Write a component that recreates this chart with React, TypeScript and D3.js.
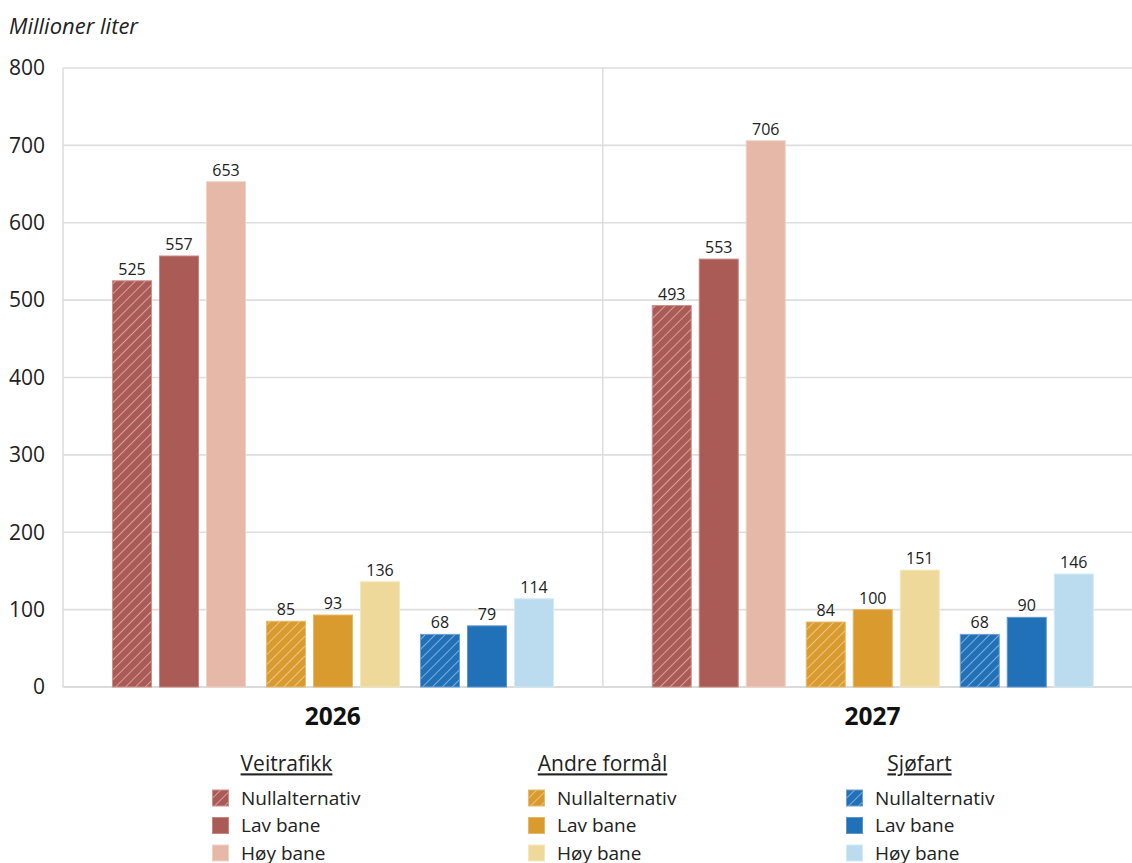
import React from "react";
import * as d3 from "d3";

const years = ["2026", "2027"];
const categories = ["Veitrafikk", "Andre formål", "Sjøfart"];
const scenarios = ["Nullalternativ", "Lav bane", "Høy bane"];
const values2026 = [[525, 557, 653], [85, 93, 136], [68, 79, 114]];
const values2027 = [[493, 553, 706], [84, 100, 151], [68, 90, 146]];
const yTicks = [0, 100, 200, 300, 400, 500, 600, 700, 800];
const colors = [
  ["#ab5b56", "#ab5b56", "#e6b8a7"],
  ["#d99a2e", "#d99a2e", "#eed99b"],
  ["#2171b8", "#2171b8", "#badcee"],
];
const strokes = [
  ["#cf908b", "#c78480", "#f0d2c6"],
  ["#e8bb6e", "#e6b766", "#f5e7bc"],
  ["#6ea0d3", "#5e95cd", "#d4eaf6"],
];

const W = 1132;
const H = 863;
const left = 63;
const right = 1142.5;
const top = 68;
const bottom = 687;
const font = "'Open Sans', 'Noto Sans', sans-serif";

export default function App() {
  const y = d3.scaleLinear().domain([0, 800]).range([bottom, top]);
  const xYear = d3.scaleBand<string>().domain(years).range([left, right]).padding(0);
  const xCat = d3.scaleBand<string>().domain(categories).range([49, 491]).paddingInner(0.13).paddingOuter(0);
  const xSc = d3.scaleBand<string>().domain(scenarios).range([0, xCat.bandwidth()]).paddingInner(0.149).paddingOuter(0);
  const data = [values2026, values2027];

  const legendX = [212, 528, 846];
  const legendHeaderCx = [286.5, 602.5, 919.5];

  return (
    <svg width={W} height={H} style={{ position: "absolute", left: 0, top: 0, background: "#fff" }} fontFamily={font}>
      <defs>
        {categories.map((c, i) => (
          <pattern key={c} id={`hatch${i}`} patternUnits="userSpaceOnUse" width={7} height={7} patternTransform="rotate(45)">
            <rect width={7} height={7} fill={colors[i][0]} />
            <line x1={0} y1={0} x2={0} y2={7} stroke="#ffffff" strokeOpacity={0.55} strokeWidth={1.6} />
          </pattern>
        ))}
      </defs>
      <text x={9} y={34} fontSize={22} fontStyle="italic" fill="#222">Millioner liter</text>
      {yTicks.map((t) => (
        <g key={t}>
          <line x1={left} x2={W} y1={y(t)} y2={y(t)} stroke={t === 0 ? "#cfcfcf" : "#dedede"} strokeWidth={1.6} />
          <text x={45} y={y(t)} dy="0.35em" textAnchor="end" fontSize={21} fill="#222">{t}</text>
        </g>
      ))}
      <line x1={left} x2={left} y1={top} y2={bottom} stroke="#dedede" strokeWidth={1.6} />
      <line x1={(xYear("2027") as number)} x2={(xYear("2027") as number)} y1={top} y2={bottom} stroke="#dedede" strokeWidth={1.6} />
      {years.map((yr, yi) => {
        const x0 = xYear(yr) as number;
        return (
          <g key={yr}>
            {categories.map((c, ci) => (
              <g key={c}>
                {scenarios.map((s, si) => {
                  const v = data[yi][ci][si];
                  const bx = x0 + (xCat(c) as number) + (xSc(s) as number);
                  const bw = xSc.bandwidth();
                  return (
                    <g key={s}>
                      <rect x={bx + 0.5} y={y(v)} width={bw - 1} height={bottom - y(v)}
                        fill={si === 0 ? `url(#hatch${ci})` : colors[ci][si]} stroke={strokes[ci][si]} strokeWidth={1} />
                      <text x={bx + bw / 2} y={y(v) - 6} textAnchor="middle" fontSize={16} fill="#222">{v}</text>
                    </g>
                  );
                })}
              </g>
            ))}
            <text x={x0 + xYear.bandwidth() / 2} y={716} dy="0.35em" textAnchor="middle" fontSize={24.5} fontWeight="bold" fill="#111">{yr}</text>
          </g>
        );
      })}
      {categories.map((c, ci) => (
        <g key={c}>
          <text x={legendHeaderCx[ci]} y={764} dy="0.35em" textAnchor="middle" fontSize={21} fill="#222" textDecoration="underline">{c}</text>
          {scenarios.map((s, si) => (
            <g key={s} transform={`translate(${legendX[ci]},${798 + si * 27.5})`}>
              <rect x={0.5} y={-8} width={16} height={16} fill={si === 0 ? `url(#hatch${ci})` : colors[ci][si]} stroke={strokes[ci][si]} strokeWidth={1} />
              <text x={29} y={0} dy="0.35em" fontSize={19} fill="#222">{s}</text>
            </g>
          ))}
        </g>
      ))}
    </svg>
  );
}
